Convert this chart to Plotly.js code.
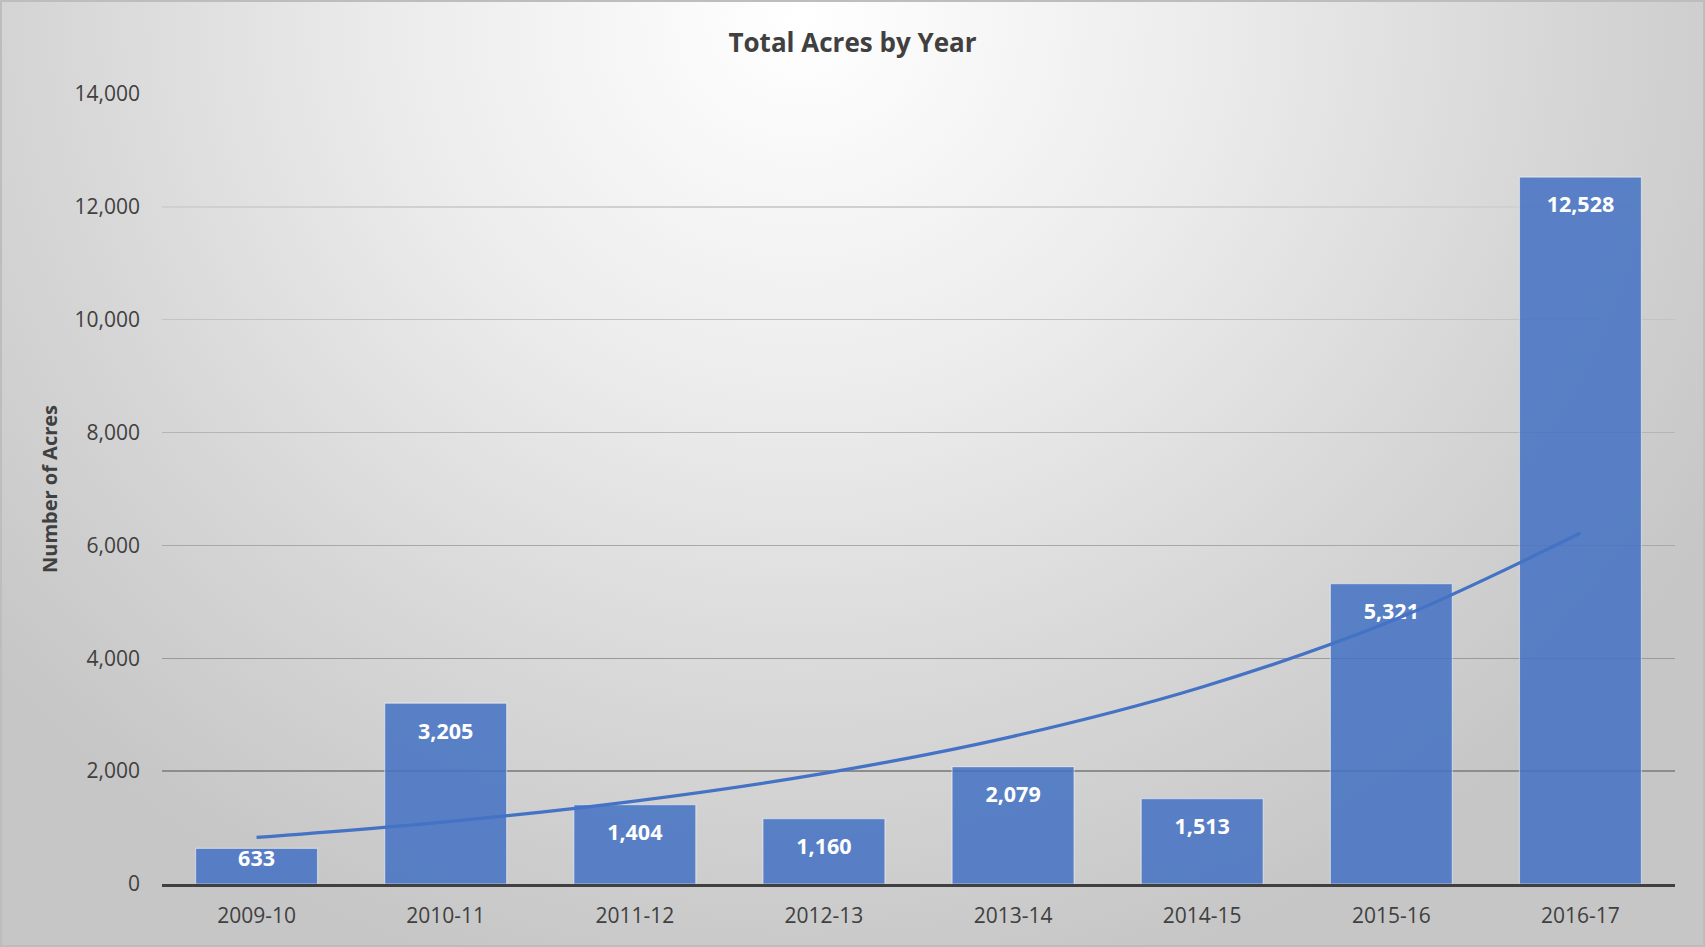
<!DOCTYPE html>
<html>
<head>
<meta charset="utf-8">
<script src="https://cdn.plot.ly/plotly-3.0.1.min.js"></script>
<style>
html, body { margin: 0; padding: 0; background: #ffffff; }
#chart {
  position: absolute; left: 0; top: 0; width: 1705px; height: 947px;
  background: radial-gradient(ellipse 62% 105% at 47% 2%, #ffffff 0%, #ececec 38%, #d6d6d6 72%, #c6c6c6 100%);
  box-shadow: inset 0 0 0 2px #bdbdbd;
}
</style>
</head>
<body>
<div id="chart"></div>
<script>
// ---- data ----
const categories = ['2009-10', '2010-11', '2011-12', '2012-13', '2013-14', '2014-15', '2015-16', '2016-17'];
const acres = [633, 3205, 1404, 1160, 2079, 1513, 5321, 12528];
const yTickValues = [0, 2000, 4000, 6000, 8000, 10000, 12000, 14000];
const chartTitle = 'Total Acres by Year';
const yAxisTitle = 'Number of Acres';

// ---- exponential trendline (least squares on ln y, x = 1..n, as Excel does) ----
const n = acres.length;
const xs = acres.map((_, i) => i + 1);
const ly = acres.map(v => Math.log(v));
const mx = xs.reduce((a, b) => a + b, 0) / n;
const my = ly.reduce((a, b) => a + b, 0) / n;
let sxy = 0, sxx = 0;
for (let i = 0; i < n; i++) { sxy += (xs[i] - mx) * (ly[i] - my); sxx += (xs[i] - mx) ** 2; }
const slope = sxy / sxx;
const intercept = my - slope * mx;
const trend = xs.map(x => Math.exp(intercept + slope * x));

// ---- layout geometry ----
const W = 1705, H = 947;
const margin = { l: 162, r: 30, t: 94, b: 63 };
const plotH = H - margin.t - margin.b;
const yMax = 14000;
const unitsPerPx = yMax / plotH;

// label positions: inside the top end of each bar
const labelY = acres.map(v => {
  const barPx = v / unitsPerPx;
  const off = Math.min(30, barPx - 23);
  return v - off * unitsPerPx;
});

const font = "'Open Sans', 'Noto Sans', sans-serif";

const traces = [
  {
    type: 'bar',
    x: categories,
    y: acres,
    marker: { color: '#4472C4', opacity: 0.85, line: { color: 'rgba(255,255,255,0.55)', width: 1.2 } },
    hoverinfo: 'skip'
  },
  {
    type: 'scatter',
    mode: 'text',
    x: categories,
    y: labelY,
    text: acres.map(v => v.toLocaleString('en-US')),
    textposition: 'middle center',
    textfont: { family: font, size: 21.5, color: '#ffffff', weight: 700 },
    hoverinfo: 'skip'
  },
  {
    type: 'scatter',
    mode: 'lines',
    x: categories,
    y: trend,
    line: { color: '#4472C4', width: 3.3, shape: 'spline', smoothing: 1 },
    hoverinfo: 'skip'
  }
];

const layout = {
  width: W, height: H,
  margin: margin,
  paper_bgcolor: 'rgba(0,0,0,0)',
  plot_bgcolor: 'rgba(0,0,0,0)',
  showlegend: false,
  bargap: 0.355,
  font: { family: font, color: '#404040' },
  title: {
    text: chartTitle,
    x: 0.5, xref: 'container', xanchor: 'center',
    y: 1 - 43 / H, yref: 'container', yanchor: 'middle',
    font: { family: font, size: 26, color: '#404040', weight: 700 }
  },
  xaxis: {
    type: 'category',
    showgrid: false,
    showline: true, linecolor: '#404040', linewidth: 3,
    ticks: '', ticklabelstandoff: 11,
    tickfont: { family: font, size: 21, color: '#404040' },
    fixedrange: true
  },
  yaxis: {
    range: [0, yMax],
    tickvals: yTickValues,
    tickformat: ',d',
    showgrid: true, gridcolor: '#a6a6a6', gridwidth: 1.5,
    zeroline: false, showline: false,
    ticks: '', ticklabelstandoff: 21,
    tickfont: { family: font, size: 21, color: '#404040' },
    title: { text: yAxisTitle, standoff: 11, font: { family: font, size: 20, color: '#404040', weight: 700 } },
    fixedrange: true
  }
};

Plotly.newPlot('chart', traces, layout, { displayModeBar: false, staticPlot: true }).then(gd => {
  // gridline shading: lighter toward the top, darker toward the bottom (as in the reference)
  const paths = gd.querySelectorAll('.gridlayer path');
  paths.forEach(p => {
    const tr = p.getAttribute('transform') || '';
    const m = tr.match(/translate\(\s*[-\d.]+\s*,\s*([-\d.]+)\s*\)/);
    let y = m ? parseFloat(m[1]) : null;
    if (y === null) return;
    const f = Math.max(0, Math.min(1, (y - margin.t) / plotH));
    const c = Math.round(222 - f * 95);
    p.style.stroke = `rgb(${c},${c},${c})`;
  });
});
</script>
</body>
</html>
